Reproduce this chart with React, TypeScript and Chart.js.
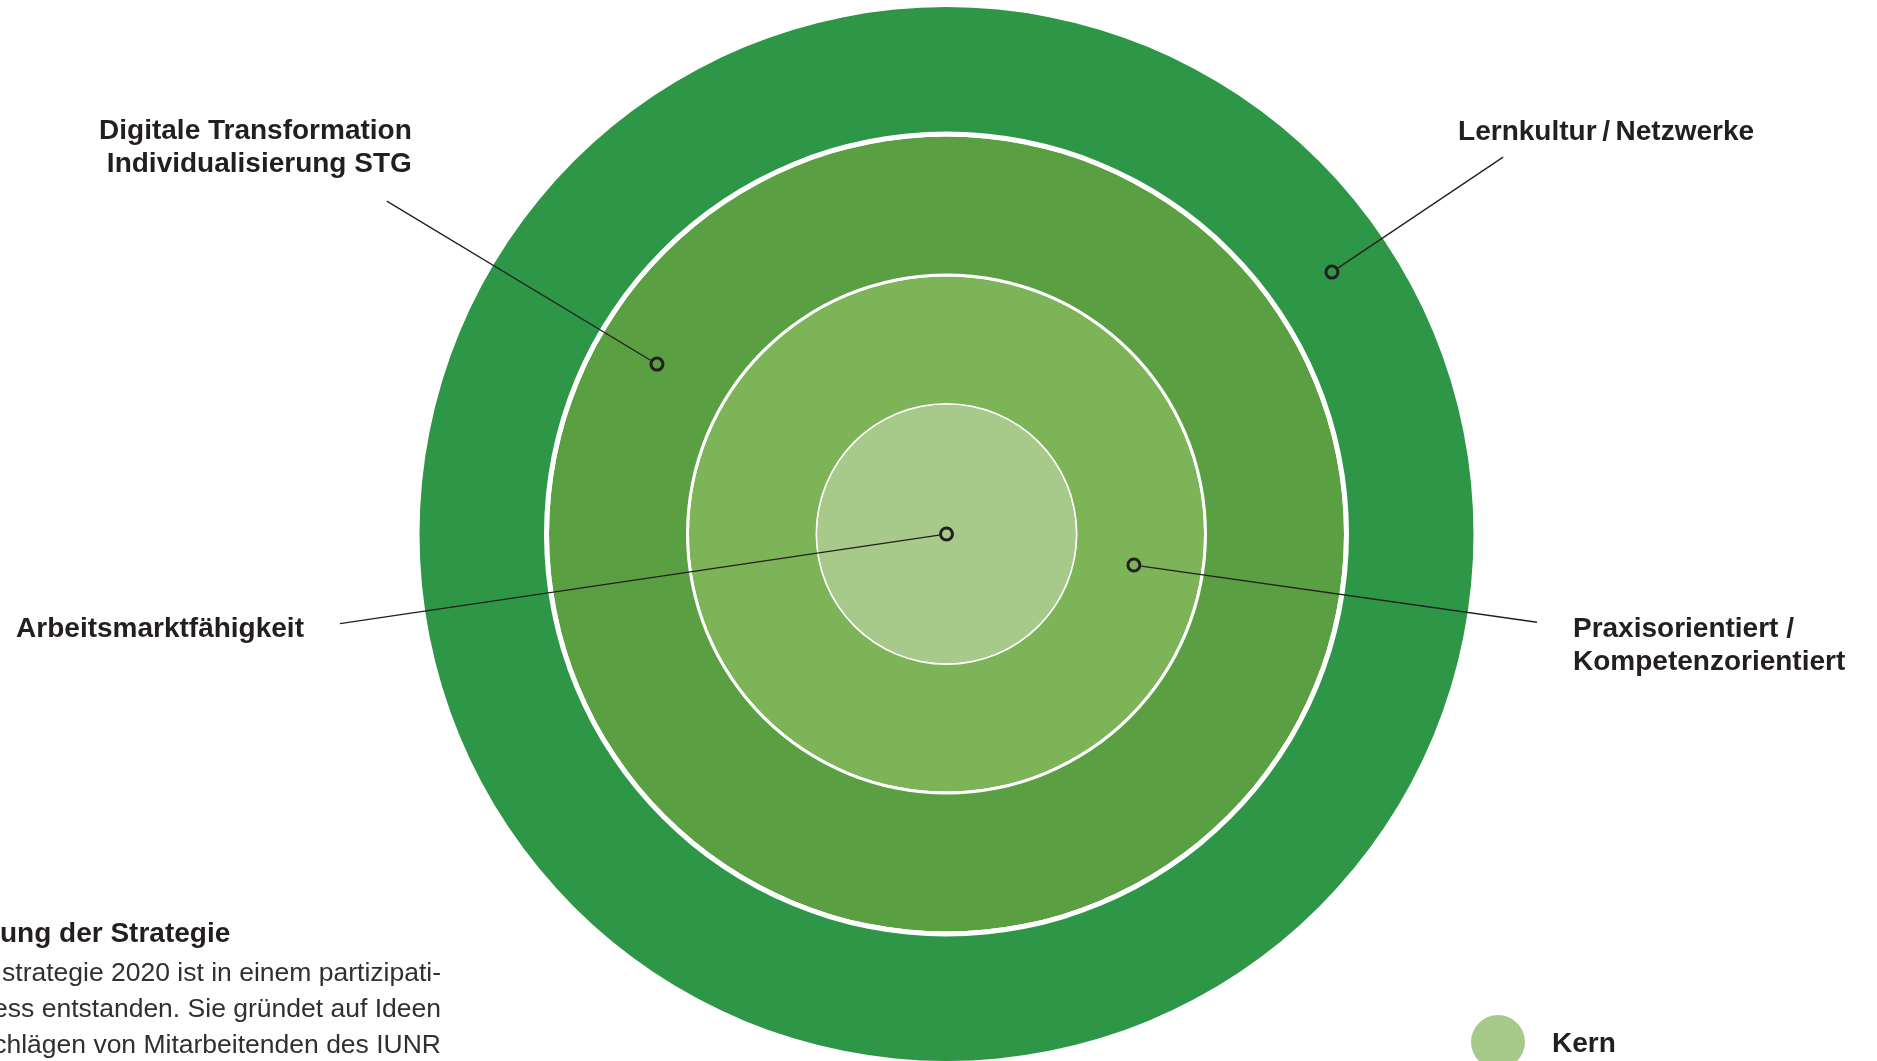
import React, { useEffect, useRef } from 'react';
import { Chart, registerables } from 'chart.js';

Chart.register(...registerables);

// ---- data ----
const ringNames = [
  'Lernkultur / Netzwerke',
  'Digitale Transformation / Individualisierung STG',
  'Praxisorientiert / Kompetenzorientiert',
  'Kern',
];
// relative ring thickness (outer to inner)
const ringThickness = [124.5, 137, 126.5, 129.5];
const separatorThickness = [5, 3, 1.5];

const calloutLabels = [
  ['Lernkultur\u2009/\u2009Netzwerke'],
  ['Digitale Transformation', 'Individualisierung STG'],
  ['Arbeitsmarktfähigkeit'],
  ['Praxisorientiert /', 'Kompetenzorientiert'],
];
const calloutRing = [0, 1, 3, 2];
const legendLabels = ['Kern'];
const legendRing = [3];

const textHeading = 'ung der Strategie';
const textLines = [
  'strategie 2020 ist in einem partizipati-',
  'ess entstanden. Sie gründet auf Ideen',
  'chlägen von Mitarbeitenden des IUNR',
];

// ---- styles / layout ----
const ringColors = ['#2e9747', '#5a9f42', '#7db457', '#a7ca8b'];
const separatorColor = '#ffffff';
const inkColor = '#231f20';
const FONT = '"Liberation Sans", Arial, Helvetica, sans-serif';

const calloutGeom = [
  { markAngle: 34.2, markDepth: 0.51, endAngle: 34.1, endDist: 1.2755, align: 'left', dx: -45, dy: -17 },
  { markAngle: 149.6, markDepth: 0.549, endAngle: 149.26, endDist: 1.2357, align: 'right', dx: 25, dy: -62 },
  { markAngle: 0, markDepth: 0, endAngle: 188.4, endDist: 1.1634, align: 'right', dx: -36, dy: 13 },
  { markAngle: -9.4, markDepth: 0.466, endAngle: -8.5, endDist: 1.1329, align: 'left', dx: 36, dy: 15 },
];
const legendGeom = { dx: 551.5, dy: 508, r: 27, textGap: 27, baseline: 10 };

const W = 1877;
const H = 1061;

const calloutPlugin = {
  id: 'callouts',
  afterDatasetsDraw(chart: any) {
    const ctx = chart.ctx as CanvasRenderingContext2D;
    const outer = chart.getDatasetMeta(0).data[0] as any;
    const cx = outer.x;
    const cy = outer.y;
    const R = outer.outerRadius;
    ctx.save();
    calloutLabels.forEach((lines, k) => {
      const g = calloutGeom[k];
      const el = chart.getDatasetMeta(2 * calloutRing[k]).data[0] as any;
      const rMark = el.innerRadius + g.markDepth * (el.outerRadius - el.innerRadius);
      const a = (g.markAngle * Math.PI) / 180;
      const mx = cx + rMark * Math.cos(a);
      const my = cy - rMark * Math.sin(a);
      const b = (g.endAngle * Math.PI) / 180;
      const ex = cx + g.endDist * R * Math.cos(b);
      const ey = cy - g.endDist * R * Math.sin(b);
      const len = Math.hypot(ex - mx, ey - my);
      const ux = (ex - mx) / len;
      const uy = (ey - my) / len;
      const mr = 6;
      // leader line
      ctx.beginPath();
      ctx.moveTo(mx + ux * (mr + 1.5), my + uy * (mr + 1.5));
      ctx.lineTo(ex, ey);
      ctx.strokeStyle = inkColor;
      ctx.lineWidth = 1.3;
      ctx.stroke();
      // marker ring
      ctx.beginPath();
      ctx.arc(mx, my, mr, 0, Math.PI * 2);
      ctx.lineWidth = 3;
      ctx.stroke();
      // label
      ctx.fillStyle = inkColor;
      ctx.font = `bold 28px ${FONT}`;
      ctx.textAlign = g.align as CanvasTextAlign;
      ctx.textBaseline = 'alphabetic';
      lines.forEach((t, i) => {
        ctx.fillText(t, ex + g.dx, ey + g.dy + i * 33);
      });
    });
    // legend (partially visible)
    legendLabels.forEach((t, i) => {
      const lx = cx + legendGeom.dx;
      const ly = cy + legendGeom.dy + i * 70;
      ctx.beginPath();
      ctx.arc(lx, ly, legendGeom.r, 0, Math.PI * 2);
      ctx.fillStyle = ringColors[legendRing[i]];
      ctx.fill();
      ctx.fillStyle = inkColor;
      ctx.font = `bold 28px ${FONT}`;
      ctx.textAlign = 'left';
      ctx.fillText(t, lx + legendGeom.r + legendGeom.textGap, ly + legendGeom.baseline);
    });
    ctx.restore();
  },
};

export default function App() {
  const canvasRef = useRef<HTMLCanvasElement | null>(null);

  useEffect(() => {
    if (!canvasRef.current) return;
    const datasets: any[] = [];
    ringThickness.forEach((w, i) => {
      datasets.push({
        label: ringNames[i],
        data: [1],
        backgroundColor: ringColors[i],
        borderWidth: 0,
        hoverOffset: 0,
        weight: w,
      });
      if (i < separatorThickness.length) {
        datasets.push({
          label: 'sep' + i,
          data: [1],
          backgroundColor: separatorColor,
          borderWidth: 0,
          hoverOffset: 0,
          weight: separatorThickness[i],
        });
      }
    });
    const chart = new Chart(canvasRef.current, {
      type: 'doughnut',
      data: { labels: ['ring'], datasets },
      options: {
        responsive: false,
        animation: false,
        events: [],
        cutout: 0,
        layout: { padding: { left: 419.5, right: 403.5, top: 7, bottom: 0 } },
        plugins: {
          legend: { display: false },
          tooltip: { enabled: false },
        },
      },
      plugins: [calloutPlugin],
    });
    return () => chart.destroy();
  }, []);

  return (
    <div
      style={{
        position: 'fixed',
        left: 0,
        top: 0,
        width: W,
        height: H,
        overflow: 'hidden',
        background: '#ffffff',
      }}
    >
      <canvas ref={canvasRef} width={W} height={H} style={{ position: 'absolute', left: 0, top: 0 }} />
      <div
        style={{
          position: 'absolute',
          left: 0,
          top: 915,
          font: `bold 28px/36px ${FONT}`,
          color: inkColor,
          whiteSpace: 'nowrap',
        }}
      >
        {textHeading}
      </div>
      <div
        style={{
          position: 'absolute',
          left: 441 - 800,
          width: 800,
          top: 954,
          font: `26.5px/36px ${FONT}`,
          color: '#332f30',
          textAlign: 'right',
          whiteSpace: 'nowrap',
        }}
      >
        {textLines.map((t, i) => (
          <div key={i}>{t}</div>
        ))}
      </div>
    </div>
  );
}
